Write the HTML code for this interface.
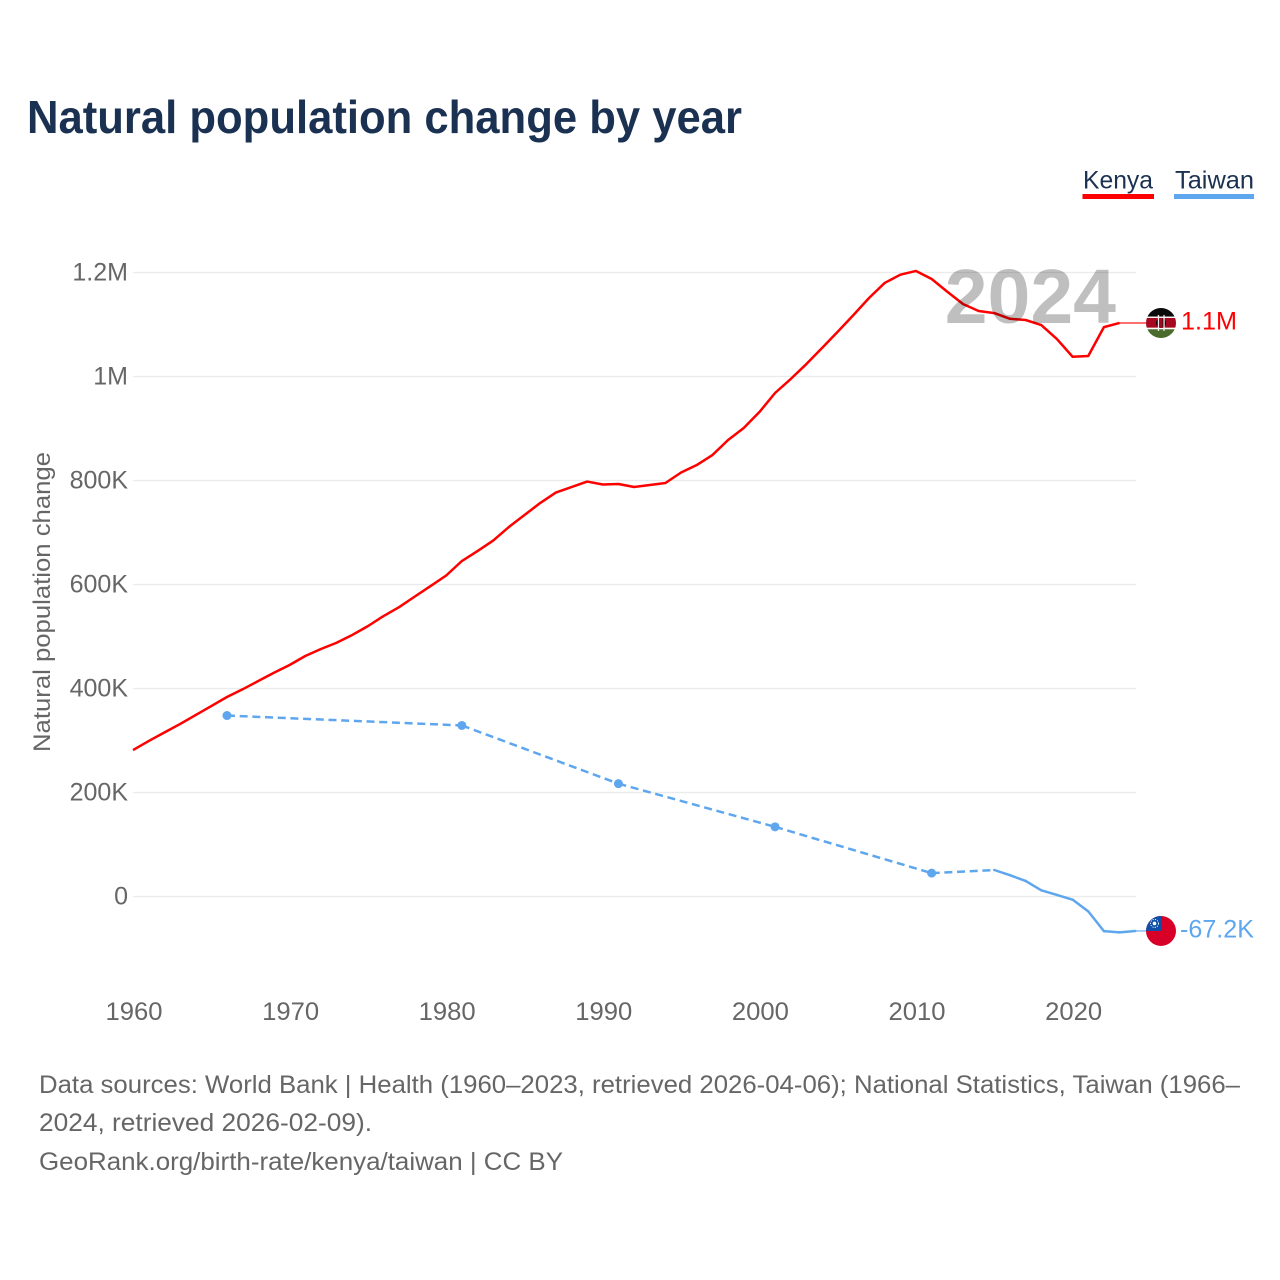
<!DOCTYPE html>
<html lang="en">
<head>
<meta charset="utf-8">
<title>Natural population change by year</title>
<style>
html,body{margin:0;padding:0;background:#fff;}
svg{display:block;font-family:"Liberation Sans",sans-serif;}
</style>
</head>
<body>
<svg id="chart" width="1280" height="1280" viewBox="0 0 1280 1280" xmlns="http://www.w3.org/2000/svg">
  <defs>
    <clipPath id="flag-clip"><circle cx="0" cy="0" r="15"></circle></clipPath>
  </defs>
  <rect x="0" y="0" width="1280" height="1280" fill="#fff"></rect>
  <text x="27" y="133" font-size="46" font-weight="700" fill="#1a3152" textLength="715" lengthAdjust="spacingAndGlyphs">Natural population change by year</text>

  <g>
    <g>
      <text x="1083" y="188.5" font-size="25" fill="#1a3152" textLength="70" lengthAdjust="spacingAndGlyphs">Kenya</text>
      <rect x="1082.5" y="194" width="71.5" height="5" fill="#ff0000"></rect>
    </g>
    <g>
      <text x="1175" y="188.5" font-size="25" fill="#1a3152" textLength="79" lengthAdjust="spacingAndGlyphs">Taiwan</text>
      <rect x="1174" y="194" width="80" height="5" fill="#5ea6ee"></rect>
    </g>
  </g>

  <g id="grid"></g>
  <g id="y-axis"></g>
  <g id="x-axis"></g>
  <text transform="translate(50,602) rotate(-90)" text-anchor="middle" font-size="24" fill="#666" textLength="300" lengthAdjust="spacingAndGlyphs">Natural population change</text>

  <g id="series"></g>

  <g id="flag-kenya">
    <g clip-path="url(#flag-clip)">
      <rect x="-16" y="-16" width="32" height="9.7" fill="#0a0a0a"></rect>
      <rect x="-16" y="-6.3" width="32" height="1.3" fill="#fff"></rect>
      <rect x="-16" y="-5" width="32" height="9.8" fill="#a5081f"></rect>
      <rect x="-16" y="4.8" width="32" height="1.5" fill="#fff"></rect>
      <rect x="-16" y="6.3" width="32" height="10" fill="#4a6b2c"></rect>
      <ellipse cx="0" cy="0" rx="5" ry="5" fill="#0a0a0a"></ellipse>
      <rect x="-1.6" y="-5" width="3.2" height="10" fill="#a5081f"></rect>
      <rect x="-3.2" y="-8" width="1.3" height="16" fill="#eee"></rect>
      <rect x="2.4" y="-8" width="1.3" height="16" fill="#eee"></rect>
    </g>
  </g>
  <g id="flag-taiwan">
    <g clip-path="url(#flag-clip)">
      <rect x="-16" y="-16" width="32" height="32" fill="#d80027"></rect>
      <rect x="-16" y="-16" width="16" height="16" fill="#0f4fa8"></rect>
      <circle cx="-6.5" cy="-7.5" r="1.8" fill="#fff"></circle>
      <circle cx="-6.5" cy="-7.5" r="4" fill="none" stroke="#fff" stroke-width="0.9" stroke-dasharray="1.2 1.2"></circle>
    </g>
  </g>
  <text id="value-kenya" x="1181" y="330" font-size="25" fill="#ff0000" textLength="56" lengthAdjust="spacingAndGlyphs">1.1M</text>
  <text id="value-taiwan" x="1180" y="938" font-size="25" fill="#5ea6ee" textLength="74" lengthAdjust="spacingAndGlyphs">-67.2K</text>

  <text x="1116" y="323" text-anchor="end" font-size="77" font-weight="700" fill="#000" fill-opacity="0.25">2024</text>

  <g font-size="25" fill="#666">
    <text x="39" y="1093" textLength="1201" lengthAdjust="spacingAndGlyphs">Data sources: World Bank | Health (1960–2023, retrieved 2026-04-06); National Statistics, Taiwan (1966–</text>
    <text x="39" y="1131" textLength="333" lengthAdjust="spacingAndGlyphs">2024, retrieved 2026-02-09).</text>
    <text x="39" y="1170" textLength="524" lengthAdjust="spacingAndGlyphs">GeoRank.org/birth-rate/kenya/taiwan | CC BY</text>
  </g>
</svg>

<script>
var kenyaStartYear = 1960;
var kenyaValues = [
  280.7,298,314.4,330.7,348,365.3,382.7,397.5,413.4,429.4,
  444.2,461.5,475,487,502,519,538.4,555.7,576,596,
  616.3,644.2,663.4,683.6,709.6,732.7,755.7,775.9,786.5,797,
  791.3,792.3,786.5,790.3,794.2,814.4,828.8,848,876.9,900,
  930.7,967.3,994.2,1023,1053.8,1085,1117,1150,1179,1194.8,
  1202,1186.5,1162,1138.4,1125,1121,1110,1107.7,1098,1071,
  1037,1038.4,1094,1102
];
var taiwanYears = [1966,1981,1991,2001,2011,2015,2016,2017,2018,2019,2020,2021,2022,2023,2024];
var taiwanValues = [347,328,216,133,44,50,40,29,11,2,-7,-29.5,-67.5,-70,-67.2];
var yTickValues = [0,200,400,600,800,1000,1200];
var yTickLabels = ["0","200K","400K","600K","800K","1M","1.2M"];
var xTickYears = [1960,1970,1980,1990,2000,2010,2020];

var svgNS = "http://www.w3.org/2000/svg";
function xScale(year){ return 133 + (year - 1960) * 15.66; }
function yScale(valueK){ return 896 - valueK * 0.52; }
function make(tag, parent){
  var el = document.createElementNS(svgNS, tag);
  parent.appendChild(el);
  return el;
}

var gridGroup = document.getElementById("grid");
var yAxisGroup = document.getElementById("y-axis");
var xAxisGroup = document.getElementById("x-axis");
var seriesGroup = document.getElementById("series");

yTickValues.forEach(function(v, i){
  var line = make("line", gridGroup);
  
  
  line.setAttribute("x1", 133);
  line.setAttribute("x2", 1136);
  line.setAttribute("y1", yScale(v) + 0.5);
  line.setAttribute("y2", yScale(v) + 0.5);
  line.setAttribute("stroke", "#ebebeb");
  line.setAttribute("stroke-width", 1.2);
  var label = make("text", yAxisGroup);
  
  
  label.setAttribute("x", 128);
  label.setAttribute("y", yScale(v) + 8.5);
  label.setAttribute("text-anchor", "end");
  label.setAttribute("font-size", 25);
  label.setAttribute("fill", "#666");
  label.textContent = yTickLabels[i];
});

xTickYears.forEach(function(year){
  var label = make("text", xAxisGroup);
  
  
  label.setAttribute("x", xScale(year) + 1);
  label.setAttribute("y", 1020);
  label.setAttribute("text-anchor", "middle");
  label.setAttribute("font-size", 25);
  label.setAttribute("fill", "#666");
  label.setAttribute("textLength", 57);
  label.setAttribute("lengthAdjust", "spacingAndGlyphs");
  label.textContent = String(year);
});

function pointsString(pts){
  return pts.map(function(p){ return p[0].toFixed(2) + "," + p[1].toFixed(2); }).join(" ");
}

/* Kenya */
var kenyaPts = kenyaValues.map(function(v, i){
  return [xScale(kenyaStartYear + i), yScale(v)];
});
var kenyaLine = make("polyline", seriesGroup);


kenyaLine.setAttribute("points", pointsString(kenyaPts));
kenyaLine.setAttribute("fill", "none");
kenyaLine.setAttribute("stroke", "#ff0000");
kenyaLine.setAttribute("stroke-width", 2.5);
kenyaLine.setAttribute("stroke-linejoin", "round");

var kenyaLast = kenyaPts[kenyaPts.length - 1];
var kenyaConnector = make("line", seriesGroup);


kenyaConnector.setAttribute("x1", kenyaLast[0]);
kenyaConnector.setAttribute("y1", kenyaLast[1]);
kenyaConnector.setAttribute("x2", 1147);
kenyaConnector.setAttribute("y2", kenyaLast[1]);
kenyaConnector.setAttribute("stroke", "#ff0000");
kenyaConnector.setAttribute("stroke-width", 1.5);
kenyaConnector.setAttribute("stroke-opacity", 0.75);

/* Taiwan */
var taiwanPts = taiwanValues.map(function(v, i){
  return [xScale(taiwanYears[i]), yScale(v)];
});
for (var s = 0; s < taiwanPts.length - 1; s++) {
  var gap = taiwanYears[s + 1] - taiwanYears[s];
  var seg = make("line", seriesGroup);
  
  
  seg.setAttribute("x1", taiwanPts[s][0]);
  seg.setAttribute("y1", taiwanPts[s][1]);
  seg.setAttribute("x2", taiwanPts[s + 1][0]);
  seg.setAttribute("y2", taiwanPts[s + 1][1]);
  seg.setAttribute("stroke", "#5ea6ee");
  seg.setAttribute("stroke-width", 2.5);
  seg.setAttribute("stroke-linecap", gap > 1 ? "butt" : "round");
  if (gap > 1) { seg.setAttribute("stroke-dasharray", "8 4.7"); }
}
taiwanPts.forEach(function(p, i){
  var prevGap = i > 0 ? taiwanYears[i] - taiwanYears[i - 1] : 99;
  var nextGap = i < taiwanPts.length - 1 ? taiwanYears[i + 1] - taiwanYears[i] : 99;
  if (prevGap > 1 && nextGap > 1) {
    var dot = make("circle", seriesGroup);
    
    
    dot.setAttribute("cx", p[0]);
    dot.setAttribute("cy", p[1]);
    dot.setAttribute("r", 4.5);
    dot.setAttribute("fill", "#5ea6ee");
  }
});
var taiwanLast = taiwanPts[taiwanPts.length - 1];
var taiwanConnector = make("line", seriesGroup);


taiwanConnector.setAttribute("x1", taiwanLast[0]);
taiwanConnector.setAttribute("y1", taiwanLast[1]);
taiwanConnector.setAttribute("x2", 1147);
taiwanConnector.setAttribute("y2", taiwanLast[1]);
taiwanConnector.setAttribute("stroke", "#5ea6ee");
taiwanConnector.setAttribute("stroke-width", 1.5);
taiwanConnector.setAttribute("stroke-opacity", 0.75);

/* Flags follow the last values */
document.getElementById("flag-kenya").setAttribute("transform", "translate(1161," + kenyaLast[1] + ")");
document.getElementById("flag-taiwan").setAttribute("transform", "translate(1161," + taiwanLast[1] + ")");
document.getElementById("value-kenya").setAttribute("y", kenyaLast[1] + 6.5);
document.getElementById("value-taiwan").setAttribute("y", taiwanLast[1] + 6.5);
</script>
</body>
</html>
